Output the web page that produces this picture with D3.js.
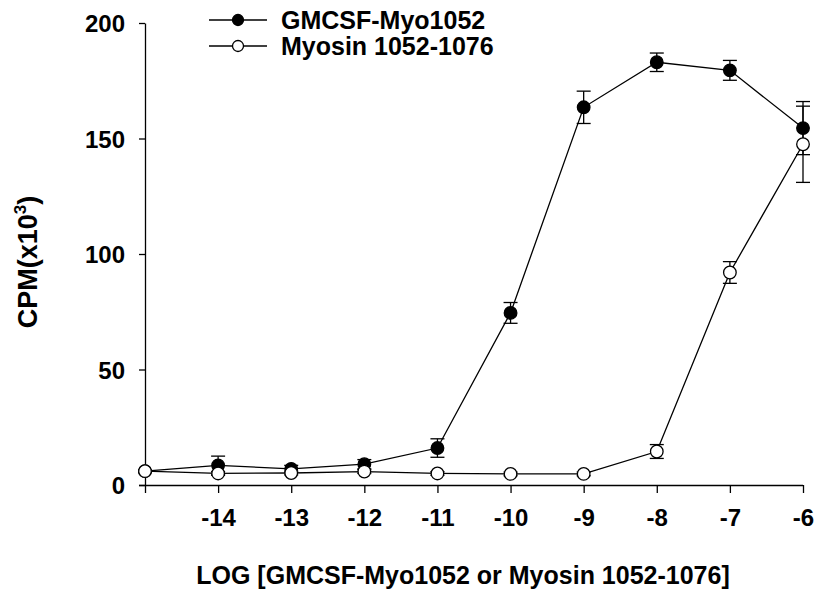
<!DOCTYPE html>
<html>
<head>
<meta charset="utf-8">
<script src="https://cdn.jsdelivr.net/npm/d3@7"></script>
<style>
  body { margin: 0; background: #fff; }
  svg text { font-family: "Liberation Sans", Arial, sans-serif; font-weight: bold; fill: #000; }
</style>
</head>
<body>
<svg id="chart" width="819" height="600"></svg>
<script>
// log concentration
const logConc = [-15, -14, -13, -12, -11, -10, -9, -8, -7, -6];

// CPM (x10^3) with SEM
const gmcsfMean = [6, 8.5, 7, 9, 16, 74.5, 163.5, 183, 179.5, 154.5];
const gmcsfErr  = [0.5, 4, 1.5, 2, 4, 4.5, 7, 4, 4.3, 11.5];
const myosinMean = [6, 5, 5.2, 5.8, 5, 4.8, 4.8, 14.5, 92, 147.5];
const myosinErr  = [0.5, 0.8, 0.8, 0.8, 0.8, 0.8, 0.8, 3, 4.7, 16.5];

const xTicks = [-15, -14, -13, -12, -11, -10, -9, -8, -7, -6];
const yTicks = [0, 50, 100, 150, 200];

const seriesNames = ["GMCSF-Myo1052", "Myosin 1052-1076"];

const svg = d3.select("#chart");

const x = d3.scaleLinear().domain([-15, -6]).range([145, 803]);
const y = d3.scaleLinear().domain([0, 200]).range([485, 23]);

const styleAxis = (g) => {
  g.selectAll("path, line").attr("stroke", "#000").attr("stroke-width", 1.3);
  g.selectAll("text").attr("font-size", "24px").attr("fill", "#000");
};

svg.append("g")
  .attr("transform", "translate(0,485)")
  .call(d3.axisBottom(x).tickValues(xTicks).tickSize(8).tickSizeOuter(0)
    .tickPadding(16)
    .tickFormat((d) => d === -15 ? "" : d))
  .call(styleAxis)
  .call((g) => g.select(".domain").attr("d", "M139,0.5H803"));

svg.append("g")
  .attr("transform", "translate(145,0)")
  .call(d3.axisLeft(y).tickValues(yTicks).tickSize(6).tickSizeOuter(0).tickPadding(14))
  .call(styleAxis)
  .call((g) => g.selectAll(".tick text").attr("dy", "0.36em"));

// axis titles
svg.append("text")
  .attr("x", 463).attr("y", 584)
  .attr("text-anchor", "middle")
  .attr("font-size", "25px")
  .text("LOG [GMCSF-Myo1052 or Myosin 1052-1076]");

const yTitle = svg.append("text")
  .attr("transform", "translate(37,262) rotate(-90)")
  .attr("text-anchor", "middle")
  .attr("font-size", "27px");
yTitle.append("tspan").text("CPM(x10");
yTitle.append("tspan").attr("font-size", "17px").attr("dy", "-11").text("3");
yTitle.append("tspan").attr("dy", "11").text(")");

const drawSeries = (means, errs, fill) => {
  const pts = logConc.map((c, i) => ({ x: c, y: means[i], e: errs[i] }));
  const g = svg.append("g");
  g.append("path")
    .datum(pts)
    .attr("fill", "none")
    .attr("stroke", "#000")
    .attr("stroke-width", 1.3)
    .attr("d", d3.line().x((d) => x(d.x)).y((d) => y(d.y)));

  const eb = g.selectAll(".err").data(pts).enter().append("g").attr("class", "err")
    .attr("stroke", "#000").attr("stroke-width", 1.3);
  eb.append("line")
    .attr("x1", (d) => x(d.x)).attr("x2", (d) => x(d.x))
    .attr("y1", (d) => y(d.y + d.e)).attr("y2", (d) => y(d.y - d.e));
  eb.append("line")
    .attr("x1", (d) => x(d.x) - 7).attr("x2", (d) => x(d.x) + 7)
    .attr("y1", (d) => y(d.y + d.e)).attr("y2", (d) => y(d.y + d.e));
  eb.append("line")
    .attr("x1", (d) => x(d.x) - 7).attr("x2", (d) => x(d.x) + 7)
    .attr("y1", (d) => y(d.y - d.e)).attr("y2", (d) => y(d.y - d.e));

  g.selectAll("circle").data(pts).enter().append("circle")
    .attr("cx", (d) => x(d.x)).attr("cy", (d) => y(d.y))
    .attr("r", 6.3)
    .attr("fill", fill)
    .attr("stroke", "#000")
    .attr("stroke-width", 1.3);
};

drawSeries(gmcsfMean, gmcsfErr, "#000");
drawSeries(myosinMean, myosinErr, "#fff");

// legend
const legend = svg.append("g");
seriesNames.forEach((name, i) => {
  const ly = 20 + i * 26;
  legend.append("line")
    .attr("x1", 209).attr("x2", 267).attr("y1", ly).attr("y2", ly)
    .attr("stroke", "#000").attr("stroke-width", 1.3);
  legend.append("circle")
    .attr("cx", 238).attr("cy", ly).attr("r", 5.5)
    .attr("fill", i === 0 ? "#000" : "#fff")
    .attr("stroke", "#000").attr("stroke-width", 1.3);
  legend.append("text")
    .attr("x", 281).attr("y", ly + 9)
    .attr("font-size", "25px")
    .text(name);
});
</script>
</body>
</html>
